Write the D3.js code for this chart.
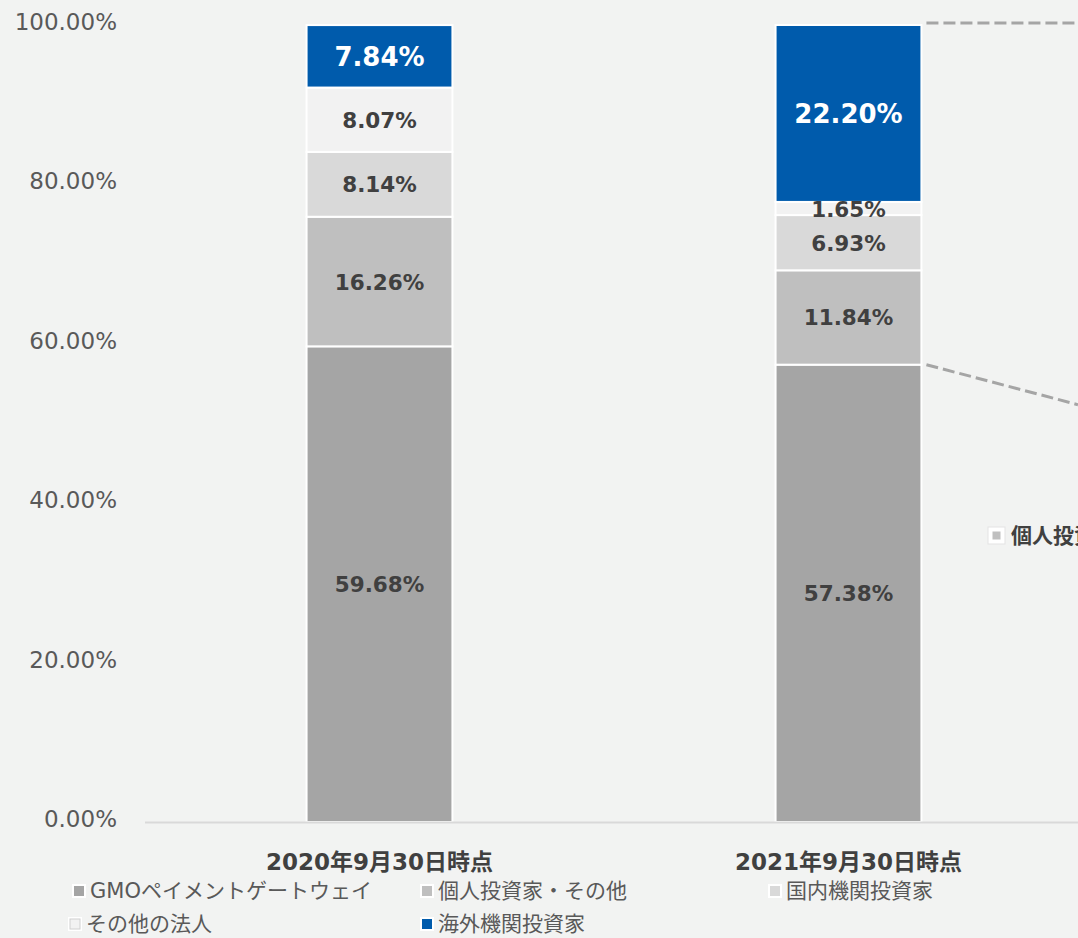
<!DOCTYPE html>
<html>
<head>
<meta charset="utf-8">
<script src="https://cdn.jsdelivr.net/npm/d3@7"></script>
<style>
  html, body { margin: 0; padding: 0; background: #f2f3f2; overflow: hidden; }
  svg { display: block; font-family: "DejaVu Sans", "Noto Sans CJK JP", sans-serif; }
</style>
</head>
<body>
<svg id="chart" width="1078" height="938"></svg>
<script>
// Shareholder composition by investor type (%)
const categories = ["2020年9月30日時点", "2021年9月30日時点", "内訳"];
const seriesNames = ["GMOペイメントゲートウェイ", "個人投資家・その他", "国内機関投資家", "その他の法人", "海外機関投資家"];
const values2020 = [59.68, 16.26, 8.14, 8.07, 7.84];
const values2021 = [57.38, 11.84, 6.93, 1.65, 22.20];
const tickValues = [0, 20, 40, 60, 80, 100];
const tickLabels = ["0.00%", "20.00%", "40.00%", "60.00%", "80.00%", "100.00%"];
const colors = ["#a5a5a5", "#bfbfbf", "#d9d9d9", "#f2f2f2", "#005bac"];

const barData = [
  { cat: categories[0], vals: values2020 },
  { cat: categories[1], vals: values2021 }
];

const svg = d3.select("#chart");
const left = 145, right = 145 + 469 * 3;
const x = d3.scaleBand().domain(categories).range([left, right])
  .paddingInner(0.689).paddingOuter(0.3445);
const y = d3.scaleLinear().domain([0, 100]).range([822, 25]);

// y tick labels
svg.append("g").selectAll("text").data(tickValues).join("text")
  .attr("x", 117).attr("y", d => y(d) + 5)
  .attr("text-anchor", "end")
  .attr("font-size", 23).attr("fill", "#595959")
  .text((d, i) => tickLabels[i]);

// stacked bars
const stackRows = barData.map(b => {
  const row = { cat: b.cat };
  seriesNames.forEach((s, i) => row[s] = b.vals[i]);
  return row;
});
const stacked = d3.stack().keys(seriesNames)(stackRows);

const layers = svg.append("g").selectAll("g").data(stacked).join("g")
  .attr("fill", (d, i) => colors[i]);
layers.selectAll("rect").data(d => d.map(p => ({ p, key: d.key }))).join("rect")
  .attr("x", d => x(d.p.data.cat))
  .attr("width", x.bandwidth())
  .attr("y", d => y(d.p[1]))
  .attr("height", d => y(d.p[0]) - y(d.p[1]))
  .attr("stroke", "#ffffff").attr("stroke-width", 2);

// value labels
stacked.forEach((layer, si) => {
  layer.forEach(p => {
    const v = p[1] - p[0];
    const big = si === 4;
    const cy = (y(p[0]) + y(p[1])) / 2;
    svg.append("text")
      .attr("x", x(p.data.cat) + x.bandwidth() / 2)
      .attr("y", cy + (big ? 10 : 8))
      .attr("text-anchor", "middle")
      .attr("font-weight", "bold")
      .attr("font-size", big ? 26 : 21.5)
      .attr("fill", big ? "#ffffff" : "#404040")
      .text(v.toFixed(2) + "%");
  });
});

// baseline
svg.append("line").attr("x1", left).attr("x2", 1078)
  .attr("y1", y(0) + 0.5).attr("y2", y(0) + 0.5)
  .attr("stroke", "#d9d9d9").attr("stroke-width", 2);

// category labels
svg.append("g").selectAll("text").data(categories.slice(0, 2)).join("text")
  .attr("x", d => x(d) + x.bandwidth() / 2).attr("y", 870)
  .attr("text-anchor", "middle").attr("font-weight", "bold")
  .attr("font-size", 23).attr("fill", "#404040")
  .text(d => d);

// connector lines from the 2021 bar toward the breakdown
const bx = x(categories[1]) + x.bandwidth() + 5;
const connectors = [
  { y1: y(100) - 2, y2: y(100) - 2 },
  { y1: y(values2021[0]), y2: y(values2021[0]) + 40 }
];
svg.append("g").selectAll("line").data(connectors).join("line")
  .attr("x1", bx).attr("x2", 1078)
  .attr("y1", d => d.y1).attr("y2", d => d.y2)
  .attr("stroke", "#a5a5a5").attr("stroke-width", 3)
  .attr("stroke-dasharray", "12,5");

// breakdown legend entry
const bl = svg.append("g").attr("transform", "translate(988,527)");
bl.append("rect").attr("width", 17).attr("height", 17).attr("fill", "#ffffff").attr("stroke", "#e3e3e3");
bl.append("rect").attr("x", 4.5).attr("y", 4.5).attr("width", 8).attr("height", 8).attr("fill", colors[1]);
bl.append("text").attr("x", 23).attr("y", 16).attr("font-size", 21).attr("font-weight", "bold")
  .attr("fill", "#404040").text("個人投資家・その他");

// legend
const legendPos = [[72, 891], [420, 891], [768, 891], [68, 924], [420, 924]];
const lg = svg.append("g").selectAll("g").data(seriesNames).join("g")
  .attr("transform", (d, i) => `translate(${legendPos[i][0]},${legendPos[i][1]})`);
lg.append("rect").attr("x", 0).attr("y", -7).attr("width", 14).attr("height", 14)
  .attr("fill", "#ffffff");
lg.append("rect").attr("x", 2).attr("y", -5).attr("width", 10).attr("height", 10)
  .attr("fill", (d, i) => colors[i])
  .attr("stroke", (d, i) => i === 3 ? "#d0d0d0" : "none");
lg.append("text").attr("x", 18).attr("y", 7)
  .attr("font-size", 21).attr("fill", "#595959")
  .text(d => d);
</script>
</body>
</html>
